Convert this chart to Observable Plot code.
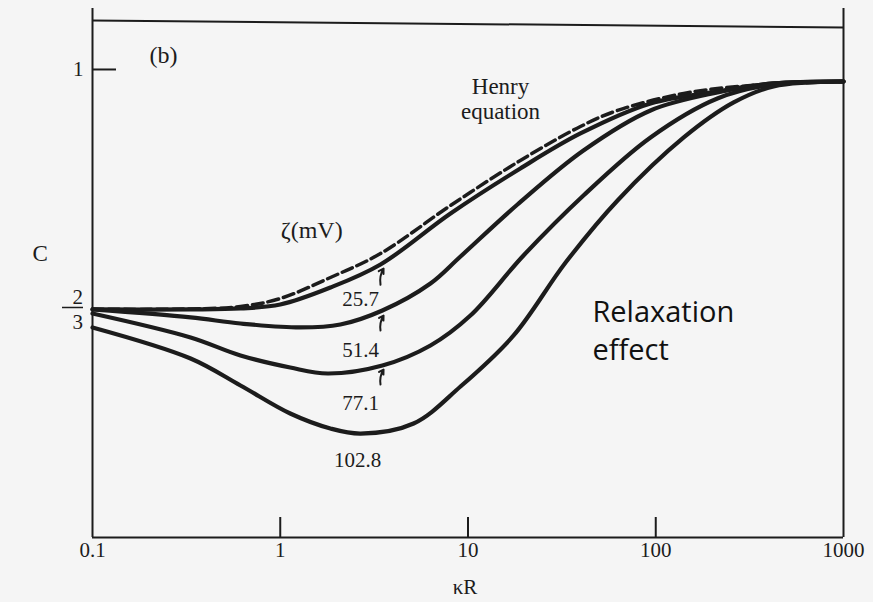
<!DOCTYPE html>
<html><head><meta charset="utf-8">
<script src="https://cdn.jsdelivr.net/npm/d3@7"></script>
<script src="https://cdn.jsdelivr.net/npm/@observablehq/plot@0.6"></script>
<style>
html,body{margin:0;padding:0;background:#f5f5f5;}
#chart svg{display:block;}
</style></head><body><div id="chart"></div>
<script>
// ---- data ----
const henryKR = [0.1, 0.333, 0.614, 1.0, 1.85, 3.42, 8.07, 19.0, 39.7, 62.6, 141, 320, 1000];
const henryC  = [0.667, 0.6674, 0.6708, 0.6819, 0.7111, 0.7444, 0.8111, 0.8736, 0.9208, 0.9431, 0.9667, 0.9778, 0.9833];

const z257KR = [0.1, 0.333, 0.614, 1.0, 1.85, 3.42, 8.07, 19.0, 39.7, 93.8, 213, 424, 1000];
const z257C  = [0.6667, 0.6667, 0.6681, 0.6736, 0.6972, 0.7292, 0.8, 0.8625, 0.9111, 0.9528, 0.9694, 0.9806, 0.9833];

const z514KR = [0.1, 0.333, 0.614, 1.28, 2.09, 3.5, 6.31, 9.12, 18.35, 41.2, 93.8, 213, 424, 1000];
const z514C  = [0.6667, 0.6556, 0.6472, 0.6417, 0.6458, 0.6653, 0.7028, 0.7403, 0.8125, 0.8875, 0.9431, 0.9681, 0.9806, 0.9833];

const z771KR = [0.1, 0.333, 0.614, 1.13, 1.79, 3.5, 6.31, 10.3, 19.75, 41.2, 93.8, 213, 424, 1000];
const z771C  = [0.6611, 0.6278, 0.6028, 0.5861, 0.5778, 0.5889, 0.6167, 0.6583, 0.7417, 0.825, 0.9056, 0.9597, 0.9792, 0.9833];

const z1028KR = [0.1, 0.333, 0.614, 1.13, 1.85, 2.68, 5.13, 9.12, 17.5, 33.1, 62.6, 141, 260, 424, 1000];
const z1028C  = [0.6417, 0.5986, 0.5611, 0.5222, 0.5014, 0.4944, 0.5083, 0.5597, 0.6306, 0.7319, 0.8181, 0.9056, 0.9542, 0.9764, 0.9833];

const zetaNames = ["25.7", "51.4", "77.1", "102.8"];
const xTicks = [0.1, 1, 10, 100, 1000];
const xTickLabels = ["0.1", "1", "10", "100", "1000"];
const yTicks = [1];

// label anchor points (data coordinates)
const zetaLabelKR = [2.68, 2.68, 2.68, 2.58];
const zetaLabelC  = [0.681, 0.610, 0.536, 0.457];
const arrowKR1 = [3.42, 3.42, 3.42], arrowC1 = [0.701, 0.6375, 0.5625];
const arrowKR2 = [3.55, 3.55, 3.55], arrowC2 = [0.7236, 0.6583, 0.5833];

// ---- layout ----
const W = 873, H = 602, ML = 92, MR = 30, MT = 8, MB = 65;
const xDomain = [0.1, 1000], yDomain = [0.35, 1.0847];
const pxPerDecade = (W - ML - MR) / 4;
const pxPerC = (H - MT - MB) / (yDomain[1] - yDomain[0]);
const xOff = (x, px) => x * Math.pow(10, px / pxPerDecade);
const yOff = (y, px) => y + px / pxPerC;

const series = [
  {name: "Henry", kR: henryKR, C: henryC},
  {name: zetaNames[0], kR: z257KR, C: z257C},
  {name: zetaNames[1], kR: z514KR, C: z514C},
  {name: zetaNames[2], kR: z771KR, C: z771C},
  {name: zetaNames[3], kR: z1028KR, C: z1028C}
];
const rows = series.flatMap(s => s.kR.map((k, i) => ({kR: k, C: s.C[i], name: s.name})));
const solid = rows.filter(d => d.name !== "Henry");
const dashed = rows.filter(d => d.name === "Henry");
const zLabels = zetaNames.map((t, i) => ({t, kR: zetaLabelKR[i], C: zetaLabelC[i]}));
const arrows = arrowKR1.map((k, i) => ({x1: k, y1: arrowC1[i], x2: arrowKR2[i], y2: arrowC2[i]}));

const ink = "#1c1c1c";
const serif = "Liberation Serif, Times New Roman, serif";

const chart = Plot.plot({
  width: W, height: H,
  marginLeft: ML, marginRight: MR, marginTop: MT, marginBottom: MB,
  x: {type: "log", domain: xDomain, axis: null},
  y: {domain: yDomain, axis: null},
  style: {background: "#f5f5f5", overflow: "visible"},
  marks: [
    // frame
    Plot.ruleX(xDomain, {stroke: ink, strokeWidth: 2}),
    Plot.ruleY([yDomain[0]], {stroke: ink, strokeWidth: 2.2}),
    Plot.link([0], {x1: xDomain[0], x2: xDomain[1], y1: yOff(1, 49), y2: yOff(1, 42), stroke: ink, strokeWidth: 2}),
    // ticks
    Plot.ruleX([1, 10, 100], {y1: yDomain[0], y2: yOff(yDomain[0], 20), stroke: ink, strokeWidth: 2}),
    Plot.ruleY(yTicks, {x1: xDomain[0], x2: xOff(xDomain[0], 24), stroke: ink, strokeWidth: 2}),
    // tick labels
    Plot.text(xTicks, {x: d => d, frameAnchor: "bottom", dy: 19, text: (d, i) => xTickLabels[i],
      fontFamily: serif, fontSize: 21, fill: ink}),
    Plot.text(yTicks, {y: d => d, frameAnchor: "left", dx: -9, textAnchor: "end", text: d => String(d),
      fontFamily: serif, fontSize: 21, fill: ink}),
    Plot.text(["2"], {y: 2/3, frameAnchor: "left", dx: -20, dy: -12, text: d => d, fontFamily: serif, fontSize: 21, fill: ink}),
    Plot.text(["3"], {y: 2/3, frameAnchor: "left", dx: -20, dy: 13, text: d => d, fontFamily: serif, fontSize: 21, fill: ink}),
    Plot.ruleY([2/3], {x1: xOff(xDomain[0], -30), x2: xOff(xDomain[0], -9), dy: -2, stroke: ink, strokeWidth: 1.5}),
    // axis titles
    Plot.text(["C"], {y: yOff(2/3, 56), frameAnchor: "left", dx: -60, text: d => d, fontFamily: serif, fontSize: 23, fill: ink}),
    Plot.text(["κR"], {x: 10, frameAnchor: "bottom", dy: 56, dx: -3, text: d => d, fontFamily: serif, fontSize: 21, fill: ink}),
    // curves
    Plot.line(dashed, {x: "kR", y: "C", curve: "catmull-rom", stroke: ink, strokeWidth: 3.5, strokeDasharray: "11,5"}),
    Plot.line(solid, {x: "kR", y: "C", z: "name", curve: "catmull-rom", stroke: ink, strokeWidth: 4.2}),
    // annotations
    Plot.text(zLabels, {x: "kR", y: "C", text: "t", fontFamily: serif, fontSize: 21, fill: ink}),
    Plot.arrow(arrows, {x1: "x1", y1: "y1", x2: "x2", y2: "y2", bend: 20, headLength: 7, stroke: ink, strokeWidth: 2}),
    Plot.text(["(b)"], {x: 0.239, y: 1.019, text: d => d, fontFamily: serif, fontSize: 24, fill: ink}),
    Plot.text(["Henry", "equation"], {x: 14.9, y: (d, i) => [0.976, 0.941][i], text: d => d, fontFamily: serif, fontSize: 23, fill: ink}),
    Plot.text(["ζ(mV)"], {x: 1.47, y: 0.776, text: d => d, fontFamily: serif, fontSize: 24, fill: ink}),
    Plot.text(["Relaxation", "effect"], {x: 46.0, y: (d, i) => [0.6625, 0.610][i], textAnchor: "start", text: d => d,
      fontFamily: "Open Sans, Noto Sans, sans-serif", fontSize: 29, fill: "#111"})
  ]
});
document.getElementById("chart").appendChild(chart);
</script></body></html>
